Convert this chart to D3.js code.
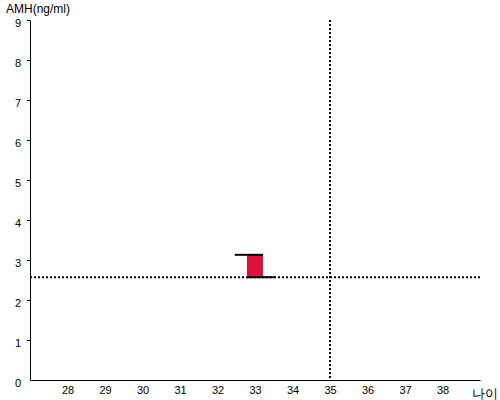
<!DOCTYPE html>
<html><head><meta charset="utf-8">
<script src="https://cdn.jsdelivr.net/npm/d3@7"></script>
<style>body{margin:0;background:#fff}svg{display:block}text{font-family:"Liberation Sans",Arial,sans-serif}</style>
</head><body>
<svg id="c" width="500" height="400"></svg>
<script>
const xTicks = [28,29,30,31,32,33,34,35,36,37,38];
const yTicks = [0,1,2,3,4,5,6,7,8,9];
const barAge = [33];
const barTop = [3.13];
const barBottom = [2.57];
const refAge = [35];
const refAmh = [2.57];
const yTitle = "AMH(ng/ml)";
const xTitle = "나이";

const svg = d3.select("#c");
const x = d3.scaleLinear().domain([27,39]).range([30,480]);
const y = d3.scaleLinear().domain([0,9]).range([380,20]);

// y axis
const ya = svg.append("g").attr("transform","translate(30,0)")
  .call(d3.axisLeft(y).tickValues(yTicks).tickSize(3).tickSizeOuter(0).tickPadding(6));
ya.select(".domain").attr("stroke","#000");
ya.selectAll(".tick line").attr("stroke","#000").filter(d=>d===0).remove();
ya.selectAll(".tick text").attr("font-size",11).attr("fill","#000").attr("dy","0.55em")
  .attr("font-family","Liberation Sans, Arial, sans-serif");

// x axis
const xa = svg.append("g").attr("transform","translate(0,380)")
  .call(d3.axisBottom(x).tickValues(xTicks).tickSize(0).tickSizeOuter(0).tickPadding(6));
xa.select(".domain").attr("stroke","#000");
xa.selectAll(".tick text").attr("font-size",11).attr("fill","#000").attr("font-family","Liberation Sans, Arial, sans-serif");

// titles
svg.append("text").attr("x",6).attr("y",13).attr("font-size",12).text(yTitle);
svg.append("text").attr("x",472).attr("y",398).attr("font-size",13)
  .attr("font-family","Noto Sans CJK KR, sans-serif").text(xTitle);

// reference lines
refAmh.forEach(v=>{
  svg.append("line").attr("x1",x(27)).attr("x2",x(39)).attr("y1",y(v)).attr("y2",y(v))
    .attr("stroke","#000").attr("stroke-width",2).attr("stroke-dasharray","2,2");
});
refAge.forEach(v=>{
  svg.append("line").attr("x1",x(v)).attr("x2",x(v)).attr("y1",y(9)).attr("y2",y(0))
    .attr("stroke","#000").attr("stroke-width",2).attr("stroke-dasharray","2,2");
});

// bars
const hw = 8/37.5; // half-width in age units
barAge.forEach((a,i)=>{
  svg.append("rect").attr("x",x(a-hw)).attr("width",x(a+hw)-x(a-hw))
    .attr("y",y(barTop[i])).attr("height",y(barBottom[i])-y(barTop[i]))
    .attr("fill","#DC143C");
  svg.append("line").attr("x1",x(a-0.54)).attr("x2",x(a+hw)).attr("y1",y(barTop[i])).attr("y2",y(barTop[i]))
    .attr("stroke","#000").attr("stroke-width",2);
  svg.append("line").attr("x1",x(a-hw)).attr("x2",x(a+0.54)).attr("y1",y(barBottom[i])).attr("y2",y(barBottom[i]))
    .attr("stroke","#000").attr("stroke-width",2);
});
</script>
</body></html>
